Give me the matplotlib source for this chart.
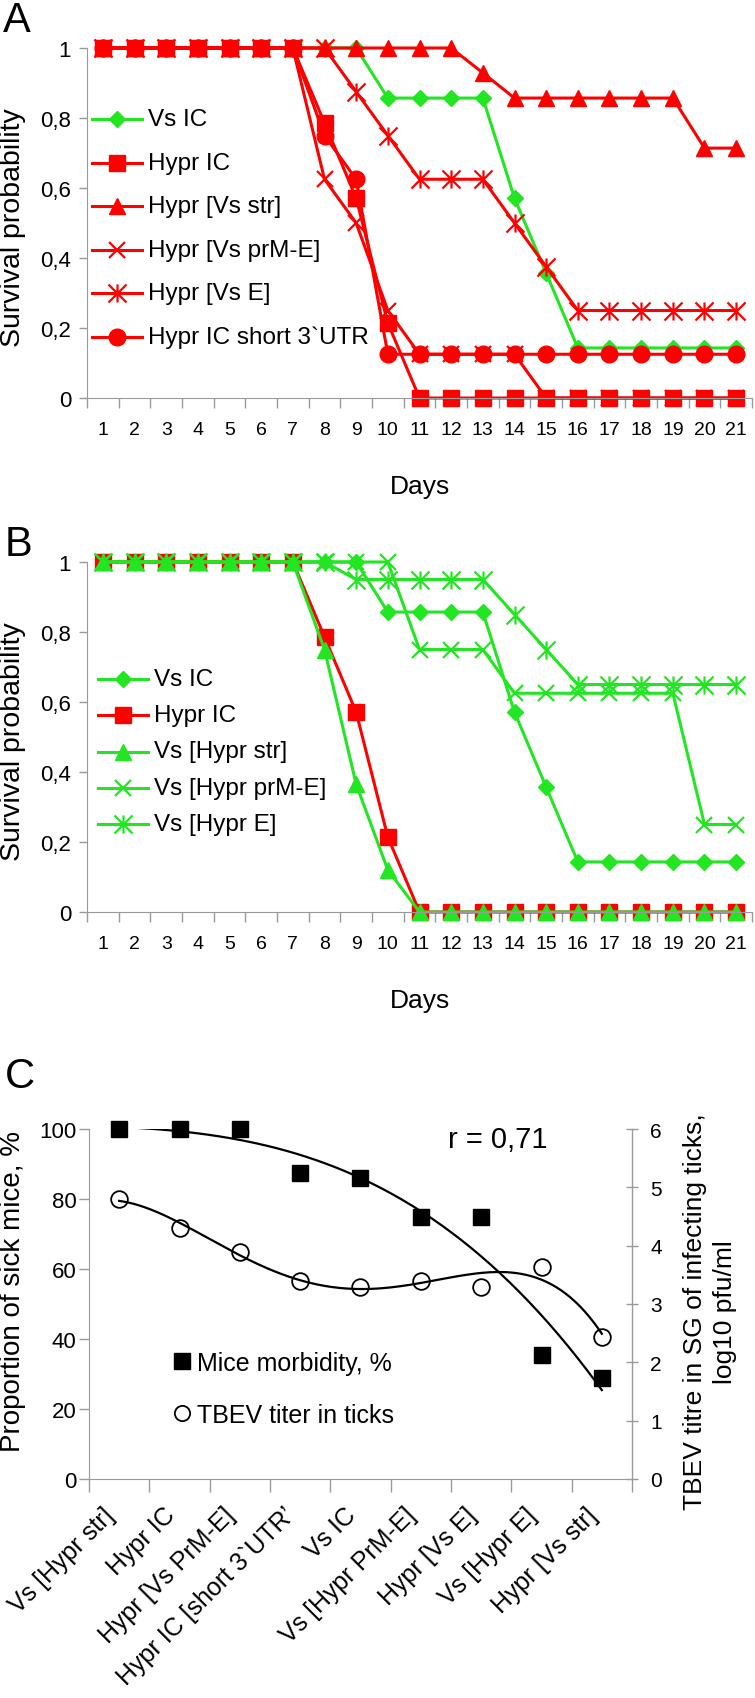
"""Survival curves of infected mice (A, B) and morbidity vs tick titre (C)."""

import numpy as np
import matplotlib
matplotlib.use('Agg')
import matplotlib.pyplot as plt
from matplotlib.path import Path
from matplotlib.lines import Line2D

plt.rcParams['font.family'] = ['Liberation Sans', 'DejaVu Sans']

# ---------------- data ----------------
days = [1, 2, 3, 4, 5, 6, 7, 8, 9, 10, 11, 12, 13, 14, 15, 16, 17, 18, 19, 20, 21]
y_ticks = [0, 0.2, 0.4, 0.6, 0.8, 1]
y_tick_labels = ['0', '0,2', '0,4', '0,6', '0,8', '1']

# panel A
vs_ic = [1, 1, 1, 1, 1, 1, 1, 1, 1, 0.857, 0.857, 0.857, 0.857, 0.571, 0.357,
         0.143, 0.143, 0.143, 0.143, 0.143, 0.143]
hypr_ic = [1, 1, 1, 1, 1, 1, 1, 0.786, 0.571, 0.214, 0, 0, 0, 0, 0,
           0, 0, 0, 0, 0, 0]
hypr_vs_str = [1, 1, 1, 1, 1, 1, 1, 1, 1, 1, 1, 1, 0.929, 0.857, 0.857,
               0.857, 0.857, 0.857, 0.857, 0.714, 0.714]
hypr_vs_prme = [1, 1, 1, 1, 1, 1, 1, 0.625, 0.5, 0.25, 0.125, 0.125, 0.125, 0.125, 0,
                0, 0, 0, 0, 0, 0]
hypr_vs_e = [1, 1, 1, 1, 1, 1, 1, 1, 0.875, 0.75, 0.625, 0.625, 0.625, 0.5, 0.375,
             0.25, 0.25, 0.25, 0.25, 0.25, 0.25]
hypr_ic_short = [1, 1, 1, 1, 1, 1, 1, 0.75, 0.625, 0.125, 0.125, 0.125, 0.125, 0.125, 0.125,
                 0.125, 0.125, 0.125, 0.125, 0.125, 0.125]

# panel B
vs_hypr_str = [1, 1, 1, 1, 1, 1, 1, 0.75, 0.365, 0.12, 0, 0, 0, 0, 0,
               0, 0, 0, 0, 0, 0]
vs_hypr_prme = [1, 1, 1, 1, 1, 1, 1, 1, 1, 1, 0.75, 0.75, 0.75, 0.625, 0.625,
                0.625, 0.625, 0.625, 0.625, 0.25, 0.25]
vs_hypr_e = [1, 1, 1, 1, 1, 1, 1, 1, 0.95, 0.95, 0.95, 0.95, 0.95, 0.85, 0.75,
             0.65, 0.65, 0.65, 0.65, 0.65, 0.65]

# panel C
strains = ['Vs [Hypr str]', 'Hypr IC', 'Hypr [Vs PrM-E]', 'Hypr IC [short 3`UTR\u2019',
           'Vs IC', 'Vs [Hypr PrM-E]', 'Hypr [Vs E]', 'Vs [Hypr E]', 'Hypr [Vs str]']
morbidity = [100, 100, 100, 87.5, 86, 75, 75, 35.4, 28.8]
titre = [4.8, 4.3, 3.9, 3.4, 3.3, 3.4, 3.3, 3.63, 2.43]

# ---------------- styles ----------------
RED = '#FF0000'
GREEN = '#22E622'
GREY = '#9A9A9A'
W, H = 755.0, 1699.0

star = Path([(0, -1), (0, 1), (-1, -1), (1, 1), (-1, 1), (1, -1)],
            [Path.MOVETO, Path.LINETO, Path.MOVETO, Path.LINETO, Path.MOVETO, Path.LINETO])
MK = {
    'D': dict(marker='D', ms=8.5),
    's': dict(marker='s', ms=11),
    '^': dict(marker='^', ms=12),
    'x': dict(marker='x', ms=12, mew=1.6),
    '*': dict(marker=star, ms=13, mew=1.6),
    'o': dict(marker='o', ms=12),
}


def px_axes(left, top, right, bottom):
    return fig.add_axes([left / W, 1 - bottom / H, (right - left) / W, (bottom - top) / H])


def key(x0, y0, pitch, series):
    # legend drawn row by row, in figure pixels (handle 50 px long, marker in the middle)
    for i, (vals, color, mk, label) in enumerate(series):
        y = 1 - (y0 + i * pitch) / H
        fig.add_artist(Line2D([x0 / W, (x0 + 50) / W], [y, y], color=color, lw=2.2,
                              transform=fig.transFigure))
        fig.add_artist(Line2D([(x0 + 25) / W], [y], ls='none', mfc=color, mec=color,
                              transform=fig.transFigure, **MK[mk]))
        fig.text((x0 + 56) / W, y, label, fontsize=17.5, va='center', ha='left')


def survival_panel(ax, series):
    for vals, color, mk, label in series:
        ax.plot(days, vals, color=color, lw=2.2, mfc=color, mec=color,
                label=label, clip_on=False, **MK[mk])
    ax.set_xlim(0.5, 21.5)
    ax.set_ylim(0, 1)
    ax.set_yticks(y_ticks)
    ax.set_yticklabels(y_tick_labels)
    ax.set_xticks(days)
    ax.set_xticks(np.arange(0.5, 22, 1), minor=True)
    ax.tick_params(axis='x', which='major', length=0, pad=16.5, labelsize=14)
    ax.tick_params(axis='x', which='minor', length=7, color=GREY, width=1)
    ax.tick_params(axis='y', length=6, color=GREY, width=1, pad=5.5, labelsize=16)
    for s in ['top', 'right']:
        ax.spines[s].set_visible(False)
    for s in ['left', 'bottom']:
        ax.spines[s].set_color(GREY)
    ax.set_xlabel('Days', fontsize=19)
    ax.xaxis.label.set_va('center')
    ax.xaxis.set_label_coords(0.5, -88 / 350)
    ax.set_ylabel('Survival probability', fontsize=20.5)
    ax.yaxis.label.set_va('center')
    ax.yaxis.set_label_coords(-74 / 665, 0.49)


fig = plt.figure(figsize=(W / 100, H / 100), dpi=100)

# ---------------- A ----------------
series_a = [
    (vs_ic, GREEN, 'D', 'Vs IC'),
    (hypr_ic, RED, 's', 'Hypr IC'),
    (hypr_vs_str, RED, '^', 'Hypr [Vs str]'),
    (hypr_vs_prme, RED, 'x', 'Hypr [Vs prM-E]'),
    (hypr_vs_e, RED, '*', 'Hypr [Vs E]'),
    (hypr_ic_short, RED, 'o', 'Hypr IC short 3`UTR'),
]
axA = px_axes(87, 49, 752, 399)
survival_panel(axA, series_a)
key(92, 120, 43.6, series_a)

# ---------------- B ----------------
series_b = [
    (vs_ic, GREEN, 'D', 'Vs IC'),
    (hypr_ic, RED, 's', 'Hypr IC'),
    (vs_hypr_str, GREEN, '^', 'Vs [Hypr str]'),
    (vs_hypr_prme, GREEN, 'x', 'Vs [Hypr prM-E]'),
    (vs_hypr_e, GREEN, '*', 'Vs [Hypr E]'),
]
axB = px_axes(87, 563, 752, 913)
survival_panel(axB, series_b)
key(98, 680, 36.25, series_b)

# ---------------- C ----------------
cats = np.arange(1, len(strains) + 1)
axC = px_axes(89, 1130, 632, 1480)
axC2 = axC.twinx()

# polynomial trend lines fitted to the points, as in the original spreadsheet chart
fit_x = np.linspace(1, len(strains), 200)
axC.plot(cats, morbidity, ls='none', marker='s', ms=11, color='black', clip_on=False)
axC.plot(fit_x, np.polyval(np.polyfit(cats, morbidity, 3), fit_x), color='black', lw=1.6)
axC2.plot(cats, titre, ls='none', marker='o', ms=12, mfc='white', mec='black', mew=1.3,
          clip_on=False)
axC2.plot(fit_x, np.polyval(np.polyfit(cats, titre, 4), fit_x), color='black', lw=1.6)

axC.set_xlim(0.5, len(strains) + 0.5)
axC.set_ylim(0, 100)
axC2.set_ylim(0, 6)
axC.set_yticks([0, 20, 40, 60, 80, 100])
axC2.set_yticks([0, 1, 2, 3, 4, 5, 6])
axC.set_xticks(cats)
axC.set_xticklabels(strains, rotation=45, ha='right', fontsize=18)
axC.set_xticks(np.arange(0.5, len(strains) + 1, 1), minor=True)
axC.tick_params(axis='x', which='major', length=0, pad=17)
axC.tick_params(axis='x', which='minor', length=9, color=GREY, width=1)
axC.tick_params(axis='y', length=7, color=GREY, width=1, pad=2, labelsize=16)
axC2.tick_params(axis='y', length=8, direction='inout', color=GREY, width=1, pad=9,
                 labelsize=15)
axC.spines['top'].set_visible(False)
axC2.spines['top'].set_visible(False)
axC2.spines['left'].set_visible(False)
axC2.spines['bottom'].set_visible(False)
for s in ['left', 'bottom']:
    axC.spines[s].set_color(GREY)
axC2.spines['right'].set_color(GREY)

axC.set_ylabel('Proportion of sick mice, %', fontsize=20)
axC.yaxis.label.set_va('center')
axC.yaxis.set_label_coords(-76 / 543, 0.54)
axC2.set_ylabel('TBEV titre in SG of infecting ticks,\nlog10 pfu/ml', fontsize=19,
                linespacing=1.3)
axC2.yaxis.label.set_va('center')
axC2.yaxis.label.set_ha('center')
axC2.yaxis.set_label_coords(1 + 78 / 543, 0.48)

handles = [Line2D([], [], ls='none', marker='s', ms=11, color='black'),
           Line2D([], [], ls='none', marker='o', ms=11, mfc='white', mec='black', mew=1.3)]
axC.legend(handles, ['Mice morbidity, %', 'TBEV titer in ticks'], loc='center left',
           bbox_to_anchor=(172 / W, 1 - 1390 / H), bbox_transform=fig.transFigure,
           frameon=False, fontsize=18, handlelength=0.8, handletextpad=0.2,
           labelspacing=1.13, borderpad=0, borderaxespad=0)

fig.text(498 / W, 1 - 1140 / H, 'r = 0,71', fontsize=21, ha='center', va='center')

# panel letters
for letter, x, y in [('A', 17, 21), ('B', 18, 545), ('C', 20, 1077)]:
    fig.text(x / W, 1 - y / H, letter, fontsize=30, ha='center', va='center')

fig.savefig('out.png', dpi=100)
